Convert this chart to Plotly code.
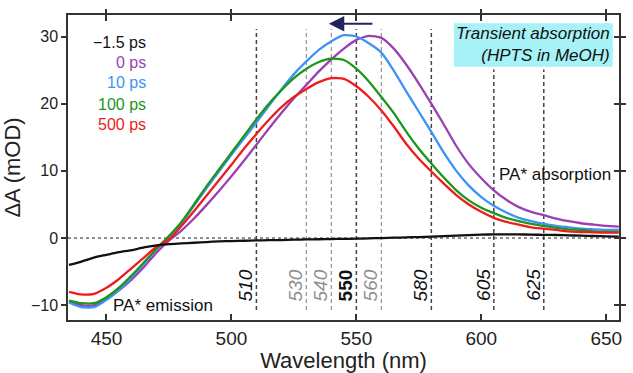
import plotly.graph_objects as go

# ---------------- data ----------------
wavelength = [435, 440, 445, 450, 455, 460, 465, 470, 475, 480, 485, 490, 495, 500,
              505, 510, 515, 520, 525, 530, 535, 540, 545, 550, 555, 560, 565, 570,
              575, 580, 585, 590, 595, 600, 605, 610, 615, 620, 625, 630, 635, 640,
              645, 650, 655]

da_m1p5 = [-4.0, -3.5, -2.9, -2.5, -2.1, -1.8, -1.4, -1.1, -0.9, -0.8, -0.7, -0.6, -0.5, -0.45,
           -0.4, -0.35, -0.32, -0.3, -0.25, -0.2, -0.18, -0.15, -0.12, -0.1, -0.05, 0.0, 0.05, 0.1,
           0.15, 0.2, 0.28, 0.35, 0.42, 0.5, 0.55, 0.55, 0.55, 0.5, 0.48, 0.45, 0.4, 0.35,
           0.3, 0.25, 0.2]

da_0 = [-9.4, -10.0, -10.0, -9.1, -7.8, -6.2, -4.3, -2.2, -0.4, 1.1, 2.9, 4.9, 7.0, 9.2,
        11.5, 13.9, 16.3, 18.6, 20.8, 22.8, 24.8, 26.6, 28.2, 29.5, 30.1, 29.8, 28.2, 25.8,
        23.0, 20.0, 16.9, 13.7, 11.0, 8.9, 7.1, 5.7, 4.6, 3.9, 3.4, 2.9, 2.5, 2.2,
        2.0, 1.8, 1.7]

da_10 = [-9.6, -10.3, -10.3, -9.2, -7.7, -5.9, -3.8, -1.7, 0.2, 2.2, 4.8, 7.4, 9.9, 12.4,
         14.8, 17.2, 19.7, 22.1, 24.4, 26.3, 28.0, 29.3, 30.2, 30.0, 29.0, 27.6, 24.9, 21.8,
         18.8, 15.8, 12.7, 10.0, 7.8, 6.1, 4.8, 3.8, 3.0, 2.5, 2.1, 1.8, 1.6, 1.4,
         1.3, 1.2, 1.2]

da_100 = [-9.3, -9.7, -9.7, -8.8, -7.4, -5.6, -3.6, -1.6, 0.3, 2.4, 5.0, 7.7, 10.2, 12.7,
          15.2, 17.7, 20.0, 22.0, 23.8, 25.2, 26.2, 26.7, 26.5, 25.2, 23.3, 21.0, 18.6, 15.8,
          13.3, 11.1, 9.0, 7.1, 5.6, 4.5, 3.7, 3.0, 2.5, 2.1, 1.8, 1.5, 1.3, 1.2,
          1.0, 0.9, 0.9]

da_500 = [-8.0, -8.4, -8.3, -7.4, -6.1, -4.5, -2.9, -1.3, -0.2, 1.8, 4.0, 6.3, 8.6, 10.9,
          13.3, 15.5, 17.6, 19.5, 21.0, 22.2, 23.2, 23.8, 23.7, 22.6, 21.0, 19.0, 16.6, 14.0,
          11.8, 9.9, 8.1, 6.4, 5.0, 3.9, 3.0, 2.4, 2.0, 1.6, 1.4, 1.2, 1.0, 0.9,
          0.85, 0.8, 0.8]

series_labels = ["\u22121.5 ps", "0 ps", "10 ps", "100 ps", "500 ps"]
series_colors = ["#111111", "#9b3fb3", "#3b94f5", "#1c961c", "#ee1c1c"]

probe_wl = [510, 530, 540, 550, 560, 580, 605, 625]
probe_gray = [False, True, True, False, True, False, False, False]

x_ticks = [450, 500, 550, 600, 650]
y_ticks = [-10, 0, 10, 20, 30]

X_RANGE = [434.6, 655.1]
Y_RANGE = [-12.2, 33.2]

FONT = "Liberation Sans, Arial, sans-serif"

fig = go.Figure()

all_series = [da_m1p5, da_0, da_10, da_100, da_500]
draw_order = [1, 2, 3, 4, 0]
for i in draw_order:
    fig.add_trace(go.Scatter(
        x=wavelength, y=all_series[i], mode="lines", name=series_labels[i],
        line=dict(color=series_colors[i], width=2.3, shape="spline", smoothing=0.6),
        showlegend=False))

# dummy trace for overlay axes
fig.add_trace(go.Scatter(x=[X_RANGE[0]], y=[Y_RANGE[0]], xaxis="x2", yaxis="y2",
                         mode="markers", marker=dict(opacity=0), showlegend=False,
                         hoverinfo="skip"))

# zero line
fig.add_shape(type="line", xref="x", yref="y", x0=X_RANGE[0], x1=X_RANGE[1], y0=0, y1=0,
              line=dict(color="#222222", width=1, dash="dot"), layer="below")

# probe wavelength dashed lines and labels
for wl, gray in zip(probe_wl, probe_gray):
    top = 25.1 if wl >= 600 else 31.1
    col = "#9a9a9a" if gray else "#444444"
    fig.add_shape(type="line", xref="x", yref="y", x0=wl, x1=wl, y0=-10.7, y1=top,
                  line=dict(color=col, width=1.5 if not gray else 1.3, dash="4px,3px"),
                  layer="below")
    if wl == 550:
        txt = "<b>550</b>"
    else:
        txt = "<i>%d</i>" % wl
    fig.add_annotation(x=wl, y=-7.0, xref="x", yref="y", text=txt, showarrow=False,
                       textangle=-90, xshift=-11,
                       font=dict(family=FONT, size=19, color="#8f8f8f" if gray else "#111111"))

# legend-like labels
leg_y = [0.909, 0.845, 0.778, 0.708, 0.640]
for lab, col, yy in zip(series_labels, series_colors, leg_y):
    fig.add_annotation(x=0.146, y=yy, xref="paper", yref="paper", text=lab, showarrow=False,
                       xanchor="right", yanchor="middle",
                       font=dict(family=FONT, size=16, color=col))

# info box
fig.add_shape(type="rect", xref="x", yref="y", x0=589.0, x1=652.6, y0=25.5, y1=31.96,
              fillcolor="#a6f2f6", line=dict(width=0), layer="below")
fig.add_annotation(x=652.4, y=28.75, xref="x", yref="y",
                   text="<i>Transient absorption</i><br><i>(HPTS in MeOH)</i>",
                   showarrow=False, xanchor="right", yanchor="middle", align="right",
                   font=dict(family=FONT, size=17, color="#111111"))

# arrow
fig.add_annotation(x=539, y=31.9, ax=557, ay=31.9, xref="x", yref="y", axref="x", ayref="y",
                   text="", showarrow=True, arrowhead=2, arrowsize=1.4, arrowwidth=2.2,
                   arrowcolor="#23235f")

# PA* labels
fig.add_annotation(x=606.1, y=9.4, xref="x", yref="y", text="PA* absorption", showarrow=False,
                   xanchor="left", yanchor="middle", font=dict(family=FONT, size=17, color="#111111"))
fig.add_annotation(x=452.0, y=-10.1, xref="x", yref="y", text="PA* emission", showarrow=False,
                   xanchor="left", yanchor="middle", font=dict(family=FONT, size=17, color="#111111"))

axis_common = dict(showgrid=False, zeroline=False, showline=True, linecolor="#333333",
                   linewidth=1.5, tickcolor="#333333", tickwidth=1.5)

fig.update_layout(
    width=633, height=373,
    margin=dict(l=68, r=7, t=15, b=50),
    paper_bgcolor="white", plot_bgcolor="white",
    font=dict(family=FONT, color="#222222"),
    xaxis=dict(range=X_RANGE, tickvals=x_ticks, ticks="inside", ticklen=6, mirror="ticks",
               tickfont=dict(size=19, family=FONT, color="#222222"),
               title=dict(text="Wavelength (nm)", font=dict(size=22, family=FONT, color="#222222"),
                          standoff=2),
               **axis_common),
    yaxis=dict(range=Y_RANGE, tickvals=y_ticks, ticks="outside", ticklen=5, mirror="ticks",
               tickfont=dict(size=16, family=FONT, color="#222222"),
               title=dict(text="\u0394A (mOD)", font=dict(size=22, family=FONT, color="#222222"),
                          standoff=6),
               **axis_common),
    xaxis2=dict(range=X_RANGE, tickvals=x_ticks, ticks="outside", ticklen=5, overlaying="x",
                side="top", showticklabels=False, showgrid=False, zeroline=False, showline=False,
                tickcolor="#333333", tickwidth=1.5),
    yaxis2=dict(range=Y_RANGE, tickvals=y_ticks, ticks="inside", ticklen=5, overlaying="y",
                side="right", showticklabels=False, showgrid=False, zeroline=False, showline=False,
                tickcolor="#333333", tickwidth=1.5),
)

fig.write_html("out.html")
